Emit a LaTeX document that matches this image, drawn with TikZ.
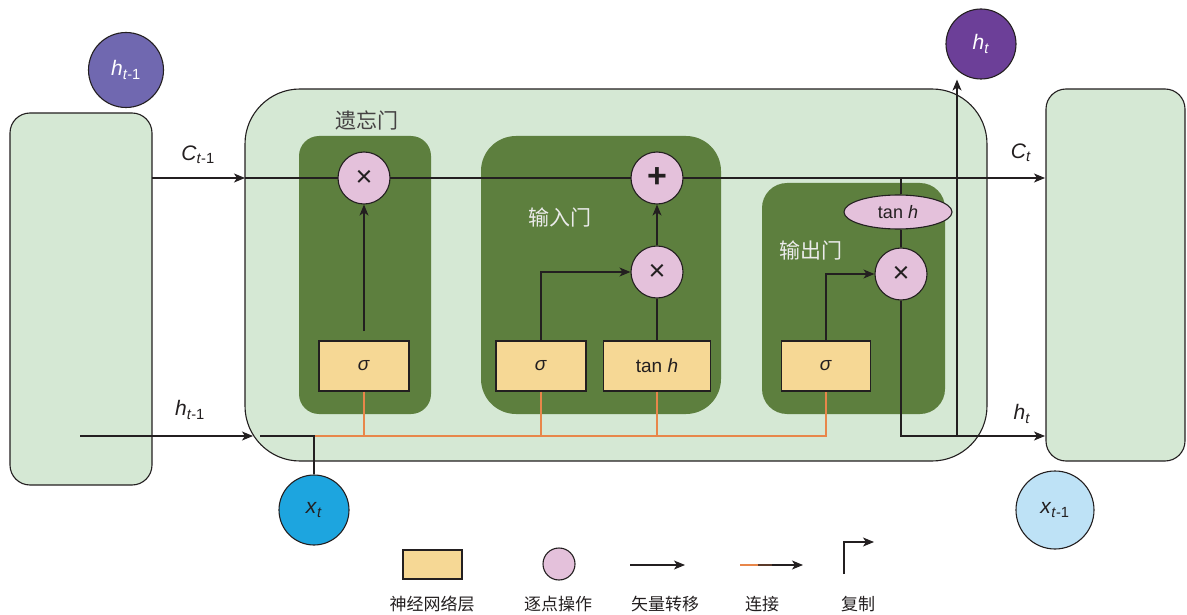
\documentclass[tikz,border=0pt]{standalone}
\usepackage{fontspec}
\setmainfont{Liberation Sans}
\newfontfamily\cjk{Noto Sans CJK SC}
\usetikzlibrary{arrows.meta,shapes.geometric}
\definecolor{lg}{HTML}{D5E8D4}
\definecolor{dg}{HTML}{5D7F3E}
\definecolor{yl}{HTML}{F6D895}
\definecolor{pk}{HTML}{E4C1DB}
\definecolor{orl}{HTML}{E8864A}
\definecolor{txt}{HTML}{231F20}
\definecolor{pv}{HTML}{7068B0}
\definecolor{pd}{HTML}{6C3F98}
\definecolor{bl}{HTML}{1DA5DF}
\definecolor{lb}{HTML}{BEE2F6}
\definecolor{brn}{HTML}{5A3A2A}
\newcommand{\lbl}[2]{\textit{#1}\textsubscript{#2}}
\tikzset{
  ln/.style={draw=txt, line width=1.1pt},
  arr/.style={ln, -{Stealth[length=11pt,width=9pt,inset=3pt]}},
  orn/.style={draw=orl, line width=1.3pt},
  cell/.style={draw=txt, fill=lg, line width=1.1pt, inner sep=0pt},
  gate/.style={fill=dg, inner sep=0pt},
  layer/.style={draw=txt, fill=yl, line width=1.1pt, inner sep=0pt, minimum width=90, minimum height=50, font=\fontsize{19}{19}\selectfont, text=txt},
  op/.style={circle, draw=txt, fill=pk, line width=1.1pt, inner sep=0pt, minimum size=52, font=\fontsize{29}{29}\selectfont, text=txt},
  bub/.style={circle, draw=txt, line width=1.1pt, inner sep=0pt, font=\fontsize{21}{21}\selectfont},
  gtxt/.style={font=\cjk\fontsize{21}{21}\selectfont},
  ltxt/.style={font=\fontsize{21}{21}\selectfont, text=txt},
  legtxt/.style={font=\cjk\fontsize{17}{17}\selectfont, text=txt}
}
\begin{document}
\begin{tikzpicture}[x=1pt,y=-1pt]
\path[use as bounding box] (0,0) rectangle (1187,615);
% big cells
\node[cell, rounded corners=20, minimum width=142, minimum height=372] (L) at (81,299) {};
\node[cell, rounded corners=55, minimum width=742, minimum height=372] (M) at (616,275) {};
\node[cell, rounded corners=20, minimum width=139, minimum height=372] (R) at (1115.5,275) {};
% gate boxes
\node[gate, rounded corners=20, minimum width=132, minimum height=278] (FG) at (365,275) {};
\node[gate, rounded corners=35, minimum width=240, minimum height=278] (IG) at (601,275) {};
\node[gate, rounded corners=25, minimum width=183, minimum height=231] (OG) at (853.5,298.5) {};
% gate labels
\node[gtxt, text=txt!85] (fgl) at (367,120) {遗忘门};
\node[gtxt, text=white!92!black] (igl) at (560,217) {输入门};
\node[gtxt, text=white!92!black] (ogl) at (811,250) {输出门};
% layers
\node[layer] (fs) at (364,366) {\textit{σ}};
\node[layer] (is) at (541,366) {\textit{σ}};
\node[layer, minimum width=107] (it) at (657,366) {tan \textit{h}};
\node[layer, minimum width=89] (os) at (826,366) {\textit{σ}};
% coordinates
\coordinate (c0) at (152,178);
\coordinate (c1) at (245,178);
\coordinate (c2) at (1045,178);
\coordinate (cj) at (901,178);
\coordinate (fgap) at (364,331);
\coordinate (h0) at (80,436);
\coordinate (h1) at (253,436);
\coordinate (xj) at (260,436);
\coordinate (ob) at (314,436);
\coordinate (h2) at (1045,436);
\coordinate (hs) at (957,436);
% bubbles
\node[bub, fill=pv, minimum size=75, text=white] (hp) at (126,70) {\lbl{h}{\textit{t}-1}};
\node[bub, fill=pd, minimum size=70, text=white] (ht) at (981,44) {\lbl{h}{\textit{t}}};
\node[bub, fill=bl, minimum size=70, text=txt] (xt) at (314,510) {\lbl{x}{\textit{t}}};
\node[bub, fill=lb, minimum size=78, text=txt] (xp) at (1055,510) {\lbl{x}{\textit{t}-1}};
% C line
\draw[arr] (c0) -- (c1);
\draw[ln] (c1) -- (cj);
\draw[arr] (cj) -- (c2);
% orange connections
\draw[orn] (ob) -- (os.south |- ob) -- (os.south);
\draw[orn] (fs.south) -- (fs.south |- ob);
\draw[orn] (is.south) -- (is.south |- ob);
\draw[orn] (it.south) -- (it.south |- ob);
% h_{t-1} and x_t
\draw[arr] (h0) -- (h1);
\draw[ln] (xt.north) |- (xj);
% ops
\node[op] (fx) at (364,178) {×};
\node[op] (ip) at (657,178) {\fontsize{34}{34}\selectfont\textbf{+}};
\node[op] (im) at (657,272) {×};
\node[op] (om) at (901,274) {×};
\node[ellipse, draw=txt, fill=pk, line width=1.1pt, inner sep=0pt, minimum width=108, minimum height=34, font=\fontsize{18}{18}\selectfont, text=txt] (ot) at (898,212) {tan \textit{h}};
% internal connectors
\draw[arr] (fgap) -- (fx.south);
\draw[arr] (is.north) |- (im.west);
\draw[ln] (it.north) -- (im.south);
\draw[arr] (im.north) -- (ip.south);
\draw[arr] (os.north) |- (om.west);
\draw[ln] (cj) -- (cj |- ot.north);
\draw[ln] (cj |- ot.south) -- (om.north);
\draw[arr] (om.south) |- (h2);
\draw[arr] (hs) -- (hs |- ht.south);
% labels
\node[ltxt] (lc0) at (198,155) {\lbl{C}{\textit{t}-1}};
\node[ltxt] (lc1) at (1021,153) {\lbl{C}{\textit{t}}};
\node[ltxt] (lh0) at (190,410) {\lbl{h}{\textit{t}-1}};
\node[ltxt] (lh1) at (1022,414) {\lbl{h}{\textit{t}}};
% legend
\node[layer, minimum width=59, minimum height=29] (g1) at (432.5,564.5) {};
\node[op, minimum size=32] (g2) at (559,564) {};
\coordinate (a0) at (630,565);
\coordinate (a1) at (685,565);
\draw[arr] (a0) -- (a1);
\coordinate (b0) at (740,565);
\coordinate (b1) at (758,565);
\coordinate (b2) at (772,565);
\coordinate (b3) at (803,565);
\draw[draw=orl, line width=1.1pt] (b0) -- (b1);
\draw[draw=brn, line width=1.1pt] (b1) -- (b2);
\draw[arr] (b2) -- (b3);
\coordinate (d0) at (844,574);
\coordinate (d1) at (874,542);
\draw[arr] (d0) |- (d1);
\node[legtxt] (t1) at (432,604) {神经网络层};
\node[legtxt] (t2) at (558,604) {逐点操作};
\node[legtxt] (t3) at (665,604) {矢量转移};
\node[legtxt] (t4) at (762,604) {连接};
\node[legtxt] (t5) at (858,604) {复制};
\end{tikzpicture}
\end{document}
